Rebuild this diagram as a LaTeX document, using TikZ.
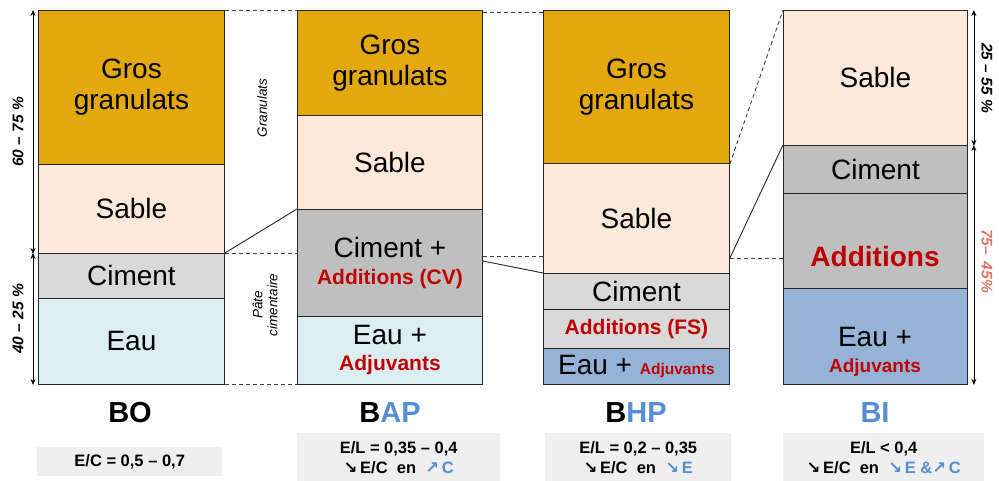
\documentclass[tikz,border=0pt]{standalone}
\usepackage{fontspec}
\setmainfont{Liberation Sans}
\newfontfamily\symfont{DejaVu Sans}
\usetikzlibrary{arrows.meta}
\definecolor{gros}{HTML}{E3A80C}
\definecolor{sable}{HTML}{FCE9DA}
\definecolor{cimL}{HTML}{D9D9D9}
\definecolor{cimD}{HTML}{BFBFBF}
\definecolor{eauL}{HTML}{DAEEF3}
\definecolor{eauD}{HTML}{95B3D7}
\definecolor{rouge}{HTML}{C00000}
\definecolor{bleu}{HTML}{558ED5}
\definecolor{boxg}{HTML}{EFEFEF}
\definecolor{saumon}{HTML}{E07468}
\newcommand{\arrSE}{{\symfont ↘}}
\newcommand{\arrNE}{{\symfont ↗}}
\newcommand{\rdb}[1]{\textcolor{rouge}{\bfseries #1}}
\begin{document}
\begin{tikzpicture}[x=1pt,y=-1pt,
  layer/.style={draw=black!85, line width=0.9pt, inner sep=0pt, anchor=north west,
    align=center, font=\fontsize{28}{31}\selectfont},
  title/.style={font=\fontsize{29}{32}\selectfont\bfseries},
  infobox/.style={fill=boxg, inner sep=0pt, anchor=north west, align=center,
    font=\fontsize{16.5}{20}\selectfont\bfseries},
  sidelab/.style={font=\fontsize{15.5}{17}\selectfont\bfseries\itshape, align=center},
  midlab/.style={font=\fontsize{13.5}{15}\selectfont\itshape, align=center},
  dimarrow/.style={{Stealth[length=6pt,width=5pt]}-{Stealth[length=6pt,width=5pt]}, line width=0.8pt},
  link/.style={line width=0.9pt, black!85},
  dlink/.style={line width=0.9pt, black!75, dashed, dash pattern=on 4pt off 3pt}]
\useasboundingbox (0,0) rectangle (999,481);

% BO
\node[layer, fill=gros, minimum width=186pt, minimum height=154pt] (bo1) at (38,10) {Gros\\granulats};
\node[layer, fill=sable, minimum width=186pt, minimum height=89pt] (bo2) at (38,164) {Sable};
\node[layer, fill=cimL, minimum width=186pt, minimum height=45pt] (bo3) at (38,253) {Ciment};
\node[layer, fill=eauL, minimum width=186pt, minimum height=86pt] (bo4) at (38,298) {Eau};

% BAP
\node[layer, fill=gros, minimum width=185pt, minimum height=105pt] (bap1) at (297,10) {Gros\\granulats};
\node[layer, fill=sable, minimum width=185pt, minimum height=94pt] (bap2) at (297,115) {Sable};
\node[layer, fill=cimD, minimum width=185pt, minimum height=107pt] (bap3) at (297,209)
  {Ciment +\\[-4pt]{\fontsize{21}{23}\selectfont\rdb{Additions (CV)}}};
\node[layer, fill=eauL, minimum width=185pt, minimum height=68pt] (bap4) at (297,316)
  {Eau +\\[-5pt]{\fontsize{21}{23}\selectfont\rdb{Adjuvants}}};

% BHP
\node[layer, fill=gros, minimum width=186pt, minimum height=153pt] (bhp1) at (543,10) {Gros\\granulats};
\node[layer, fill=sable, minimum width=186pt, minimum height=110pt] (bhp2) at (543,163) {Sable};
\node[layer, fill=cimL, minimum width=186pt, minimum height=36pt] (bhp3) at (543,273) {Ciment};
\node[layer, fill=cimL, minimum width=186pt, minimum height=39pt] (bhp4) at (543,309)
  {{\fontsize{21}{23}\selectfont\rdb{Additions (FS)}}};
\node[layer, fill=eauD, minimum width=186pt, minimum height=36pt] (bhp5) at (543,348)
  {Eau + {\fontsize{15.5}{17}\selectfont\rdb{Adjuvants}}};

% BI
\node[layer, fill=sable, minimum width=184pt, minimum height=135pt] (bi1) at (783,10) {Sable};
\node[layer, fill=cimD, minimum width=184pt, minimum height=48pt] (bi2) at (783,145) {Ciment};
\node[layer, fill=cimD, minimum width=184pt, minimum height=95pt] (bi3) at (783,193) {};
\node[font=\fontsize{28}{30}\selectfont] (bi3t) at (875,256) {\rdb{Additions}};
\node[layer, fill=eauD, minimum width=184pt, minimum height=96pt] (bi4) at (783,288) {};
\node[font=\fontsize{28}{31}\selectfont, align=center] (bi4t) at (875,352)
  {Eau +\\[-5pt]{\fontsize{19}{21}\selectfont\rdb{Adjuvants}}};

% connectors BO - BAP
\draw[dlink] (bo1.north east) -- (bap1.north west);
\draw[dlink] (bo4.south east) -- (bap4.south west);
\draw[dlink] (bo3.north east) -- (bo3.north east -| bap1.west);
\draw[link] (bo3.north east) -- (bap3.north west);

% connectors BAP - BHP
\draw[dlink] ([yshift=-2pt]bap1.north east) -- ([yshift=-2pt]bhp1.north west);
\coordinate (c1) at ([yshift=-47pt]bap3.north east);
\coordinate (c2) at ([yshift=-52pt]bap3.north east);
\draw[dlink] (c1) -- (c1 -| bhp1.west);
\draw[link] (c2) -- (bhp3.north west);

% connectors BHP - BI
\coordinate (c3) at ([yshift=-95pt]bhp2.north east);
\draw[dlink] (bhp1.south east) -- (bi1.north west);
\draw[dlink] (c3) -- (c3 -| bi1.west);
\draw[link] (c3) -- (bi2.north west);

% dimension arrows
\draw[dimarrow] ([xshift=-5pt]bo1.north west) -- ([xshift=-5pt]bo2.south west)
  node[midway, sidelab, rotate=90, yshift=15pt] {60 -- 75 \%};
\draw[dimarrow] ([xshift=-5pt]bo3.north west) -- ([xshift=-5pt]bo4.south west)
  node[midway, sidelab, rotate=90, yshift=15pt] {40 -- 25 \%};
\draw[dimarrow] ([xshift=6pt]bi1.north east) -- ([xshift=6pt]bi1.south east)
  node[midway, sidelab, rotate=-90, yshift=13pt] {25 -- 55 \%};
\draw[dimarrow] ([xshift=6pt]bi2.north east) -- ([xshift=6pt]bi4.south east)
  node[midway, sidelab, rotate=-90, yshift=13pt, xshift=-4pt, text=saumon] {75-- \,45\%};

% middle labels
\node[midlab, rotate=90] (lgran) at (262,108) {Granulats};
\node[midlab, rotate=90] (lpate) at (265,305) {Pâte\\cimentaire};

% titles
\node[title] (tbo) at (130,413) {BO};
\node[title] (tbap) at (390,413) {B\textcolor{bleu}{AP}};
\node[title] (tbhp) at (636,413) {B\textcolor{bleu}{HP}};
\node[title] (tbi) at (875,413) {\textcolor{bleu}{BI}};

% info boxes
\node[infobox, minimum width=185pt, minimum height=29pt] (ibo) at (37,447) {E/C = 0,5 -- 0,7};
\node[infobox, minimum width=203pt, minimum height=48pt] (ibap) at (297,433)
  {E/L = 0,35 -- 0,4\\\arrSE\,E/C\ \ en\ \ \textcolor{bleu}{\arrNE\,C}};
\node[infobox, minimum width=186pt, minimum height=48pt] (ibhp) at (545,433)
  {E/L = 0,2 -- 0,35\\\arrSE\,E/C\ \ en\ \ \textcolor{bleu}{\arrSE\,E}};
\node[infobox, minimum width=201pt, minimum height=48pt] (ibi) at (783,433)
  {E/L < 0,4\\\arrSE\,E/C\ \ en\ \ \textcolor{bleu}{\arrSE\,E \&\arrNE\,C}};
\end{tikzpicture}
\end{document}
